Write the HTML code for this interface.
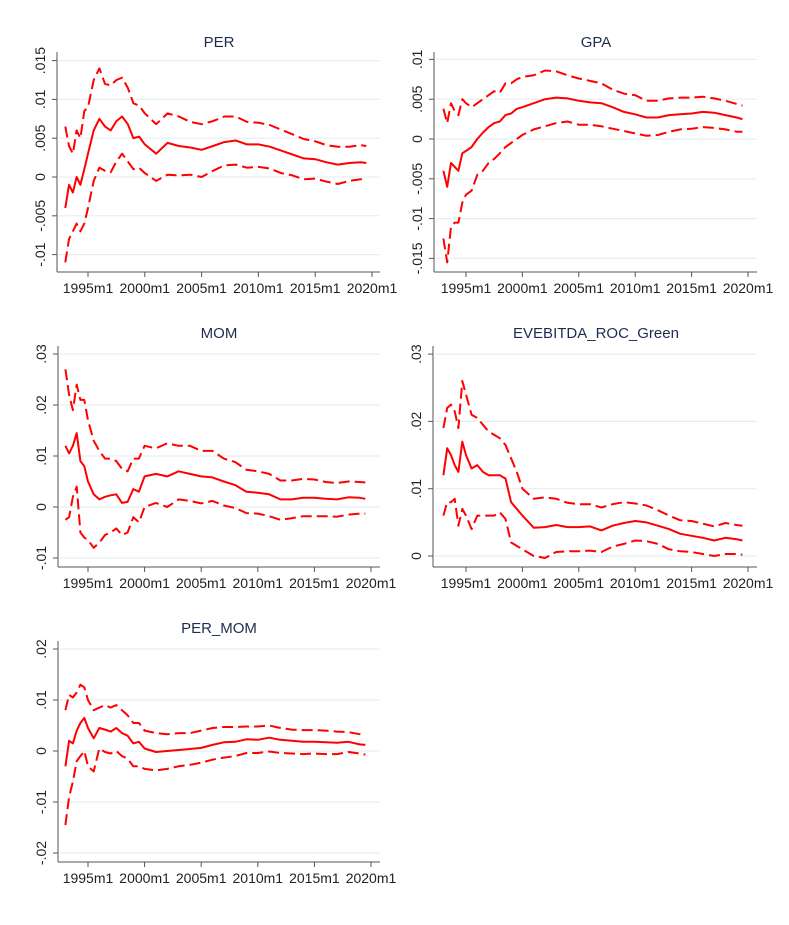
<!DOCTYPE html>
<html><head><meta charset="utf-8"><style>
body{margin:0;background:#fff;}
svg text{font-family:"Liberation Sans",Arial,sans-serif;}
</style></head><body>
<svg id="chart" width="789" height="920" viewBox="0 0 789 920"></svg>
<script>
const times=[1993,1993.33,1993.67,1994,1994.33,1994.67,1995,1995.5,1996,1996.5,1997,1997.5,1998,1998.5,1999,1999.5,2000,2001,2002,2003,2004,2005,2006,2007,2008,2009,2010,2011,2012,2013,2014,2015,2016,2017,2018,2019,2019.5];
const xTickYears=[1995,2000,2005,2010,2015,2020];
const xTickLabels=["1995m1","2000m1","2005m1","2010m1","2015m1","2020m1"];

const perMid=[-.004,-.001,-.002,0,-.001,.001,.003,.006,.0075,.0065,.006,.0072,.0078,.0068,.005,.0052,.0042,.003,.0044,.004,.0038,.0035,.004,.0045,.0047,.0042,.0042,.0039,.0034,.0029,.0024,.0023,.0019,.0016,.0018,.0019,.0018];
const perUp=[.0065,.004,.003,.006,.005,.0085,.009,.0125,.014,.012,.0118,.0125,.0128,.0115,.0095,.0092,.0082,.0068,.0082,.0078,.0071,.0068,.0072,.0078,.0078,.0071,.007,.0067,.0061,.0055,.0049,.0046,.0041,.0039,.0039,.0041,.004];
const perLow=[-.011,-.008,-.007,-.006,-.007,-.006,-.004,-.0005,.0012,.0008,.0006,.002,.003,.002,.001,.0012,.0005,-.0005,.0003,.0002,.0003,0,.0008,.0015,.0016,.0012,.0013,.0011,.0005,.0002,-.0003,-.0002,-.0006,-.0009,-.0005,-.0003,-.0003];
const perTicks=[-.01,-.005,0,.005,.01,.015];
const perTickLabels=["-.01","-.005","0",".005",".01",".015"];

const gpaMid=[-.004,-.006,-.003,-.0035,-.004,-.0018,-.0015,-.001,0,.0008,.0015,.002,.0022,.003,.0032,.0038,.004,.0045,.005,.0052,.0051,.0048,.0046,.0045,.004,.0034,.0031,.0027,.0027,.003,.0031,.0032,.0034,.0033,.003,.0027,.0025];
const gpaUp=[.0038,.002,.0045,.0035,.003,.005,.0045,.004,.0045,.005,.0055,.006,.0058,.007,.007,.0075,.0078,.008,.0086,.0085,.008,.0076,.0073,.007,.0062,.0057,.0055,.0048,.0048,.0051,.0052,.0052,.0053,.0051,.0048,.0044,.0042];
const gpaLow=[-.0125,-.0155,-.011,-.0105,-.0105,-.008,-.007,-.0065,-.0045,-.004,-.003,-.0025,-.0018,-.001,-.0005,0,.0005,.0012,.0016,.002,.0022,.0018,.0018,.0016,.0013,.001,.0007,.0004,.0005,.0009,.0012,.0013,.0015,.0014,.0012,.0009,.0009];
const gpaTicks=[-.015,-.01,-.005,0,.005,.01];
const gpaTickLabels=["-.015","-.01","-.005","0",".005",".01"];

const momMid=[.012,.0105,.012,.0145,.009,.008,.005,.0025,.0015,.002,.0023,.0025,.0008,.001,.0035,.003,.006,.0065,.006,.007,.0065,.006,.0058,.005,.0043,.003,.0028,.0025,.0015,.0015,.0018,.0018,.0016,.0015,.0019,.0018,.0016];
const momUp=[.027,.022,.019,.024,.021,.021,.017,.013,.011,.0095,.0095,.009,.0075,.007,.0095,.0095,.012,.0115,.0125,.012,.012,.011,.011,.0095,.0088,.0073,.007,.0065,.0052,.0052,.0055,.0054,.0049,.0047,.005,.0049,.0048];
const momLow=[-.0025,-.002,.002,.004,-.005,-.006,-.0065,-.008,-.007,-.0055,-.005,-.0042,-.0055,-.005,-.002,-.003,0,.0008,0,.0015,.0012,.0007,.0012,.0003,-.0002,-.0012,-.0013,-.0018,-.0025,-.0022,-.0018,-.0018,-.0018,-.0019,-.0015,-.0013,-.0013];
const momTicks=[-.01,0,.01,.02,.03];
const momTickLabels=["-.01","0",".01",".02",".03"];

const eveMid=[.012,.016,.015,.0135,.0125,.017,.015,.013,.0135,.0125,.012,.012,.012,.0115,.008,.007,.006,.0042,.0043,.0046,.0043,.0043,.0044,.0038,.0045,.0049,.0052,.005,.0045,.004,.0033,.003,.0027,.0023,.0027,.0025,.0023];
const eveUp=[.019,.022,.0225,.0215,.019,.026,.024,.021,.0205,.0195,.0185,.018,.0175,.0165,.0145,.0125,.010,.0085,.0087,.0085,.0079,.0077,.0077,.0072,.0077,.008,.0078,.0075,.0068,.006,.0053,.0052,.0048,.0044,.0049,.0046,.0045];
const eveLow=[.006,.008,.008,.0085,.0045,.007,.006,.004,.006,.006,.006,.006,.0065,.0055,.002,.0015,.001,0,-.0003,.0006,.0007,.0007,.0008,.0006,.0014,.0018,.0023,.0022,.0018,.001,.0007,.0006,.0003,0,.0003,.0003,.0002];
const eveTicks=[0,.01,.02,.03];
const eveTickLabels=["0",".01",".02",".03"];

const pmMid=[-.003,.002,.0015,.004,.0055,.0065,.0045,.0025,.0045,.0042,.0038,.0045,.0035,.003,.0015,.0018,.0005,-.0002,0,.0002,.0004,.0006,.0012,.0017,.0018,.0023,.0022,.0026,.0022,.002,.0018,.0018,.0017,.0016,.0018,.0013,.0012];
const pmUp=[.008,.011,.0105,.0115,.013,.0125,.010,.008,.0085,.009,.0085,.009,.008,.007,.0055,.0055,.004,.0035,.0033,.0035,.0035,.004,.0045,.0047,.0047,.0048,.0048,.005,.0045,.0042,.0041,.0041,.004,.0038,.0037,.0033,.0032];
const pmLow=[-.0145,-.009,-.006,-.002,-.001,0,-.003,-.004,.0005,-.0002,-.0005,0,-.001,-.0015,-.003,-.003,-.0035,-.0038,-.0035,-.003,-.0027,-.0023,-.0017,-.0013,-.001,-.0004,-.0004,-.0001,-.0004,-.0005,-.0006,-.0005,-.0006,-.0006,-.0002,-.0005,-.0007];
const pmTicks=[-.02,-.01,0,.01,.02];
const pmTickLabels=["-.02","-.01","0",".01",".02"];

const NS="http://www.w3.org/2000/svg";
const svg=document.getElementById('chart');
function mk(tag,attrs,parent){const e=document.createElementNS(NS,tag);for(const k in attrs)e.setAttribute(k,attrs[k]);(parent||svg).appendChild(e);return e;}

const panels=[
 {name:"PER",slug:"per",mid:perMid,up:perUp,low:perLow,ticks:perTicks,labels:perTickLabels,left:57,right:380,bottom:272,axTop:52,x95:88,x20:372,v0:177,ppu:38.8/0.005,tx:219,ty:47},
 {name:"GPA",slug:"gpa",mid:gpaMid,up:gpaUp,low:gpaLow,ticks:gpaTicks,labels:gpaTickLabels,left:434,right:757,bottom:272,axTop:52,x95:466,x20:748,v0:139,ppu:39.8/0.005,tx:596,ty:47},
 {name:"MOM",slug:"mom",mid:momMid,up:momUp,low:momLow,ticks:momTicks,labels:momTickLabels,left:58,right:380,bottom:567,axTop:346,x95:88,x20:371,v0:507,ppu:51/0.01,tx:219,ty:338},
 {name:"EVEBITDA_ROC_Green",slug:"evebitda",mid:eveMid,up:eveUp,low:eveLow,ticks:eveTicks,labels:eveTickLabels,left:433,right:757,bottom:567,axTop:346,x95:466,x20:748,v0:556,ppu:67.3/0.01,tx:596,ty:338},
 {name:"PER_MOM",slug:"per-mom",mid:pmMid,up:pmUp,low:pmLow,ticks:pmTicks,labels:pmTickLabels,left:58,right:380,bottom:862,axTop:641,x95:88,x20:371,v0:751,ppu:51/0.01,tx:219,ty:633}
];

panels.forEach(p=>{
  const g=mk('g',{});
  
  
  const xs=t=>p.x95+(t-1995)*(p.x20-p.x95)/25;
  const ys=v=>p.v0-v*p.ppu;
  p.ticks.forEach((v,i)=>{
    const gl=mk('line',{x1:p.left+2,x2:p.right,y1:ys(v),y2:ys(v),stroke:'#e6eff1','stroke-width':1.2},g);
    
    
    mk('line',{x1:p.left-5,x2:p.left,y1:ys(v),y2:ys(v),stroke:'#555','stroke-width':1},g);
    const tl=mk('text',{x:0,y:0,'font-size':14,fill:'#222','text-anchor':'middle',transform:`translate(${p.left-12},${ys(v)}) rotate(-90)`},g);
    tl.textContent=p.labels[i];
    
    
  });
  const ya=mk('line',{x1:p.left,x2:p.left,y1:p.axTop,y2:p.bottom,stroke:'#555','stroke-width':1},g);
  
  
  const xa=mk('line',{x1:p.left,x2:p.right,y1:p.bottom,y2:p.bottom,stroke:'#555','stroke-width':1},g);
  
  
  xTickYears.forEach((yr,i)=>{
    mk('line',{x1:xs(yr),x2:xs(yr),y1:p.bottom,y2:p.bottom+5,stroke:'#555','stroke-width':1},g);
    const tl=mk('text',{x:xs(yr),y:p.bottom+21,'font-size':14,fill:'#222','text-anchor':'middle'},g);
    tl.textContent=xTickLabels[i];
    
    
  });
  const tt=mk('text',{x:p.tx,y:p.ty,'font-size':15,fill:'#1e2d4f','text-anchor':'middle'},g);
  tt.textContent=p.name;
  
  
  const series=[[p.up,'upper-bound','11 5'],[p.low,'lower-bound','11 5'],[p.mid,'estimate',null]];
  series.forEach(([arr,nm,dash])=>{
    const d=arr.map((v,i)=>(i?'L':'M')+xs(times[i]).toFixed(1)+' '+ys(v).toFixed(1)).join(' ');
    const a={d:d,fill:'none',stroke:'#ff0000','stroke-width':2,'stroke-linejoin':'round'};
    if(dash)a['stroke-dasharray']=dash;
    const path=mk('path',a,g);
    
    
  });
});
</script>
</body></html>
